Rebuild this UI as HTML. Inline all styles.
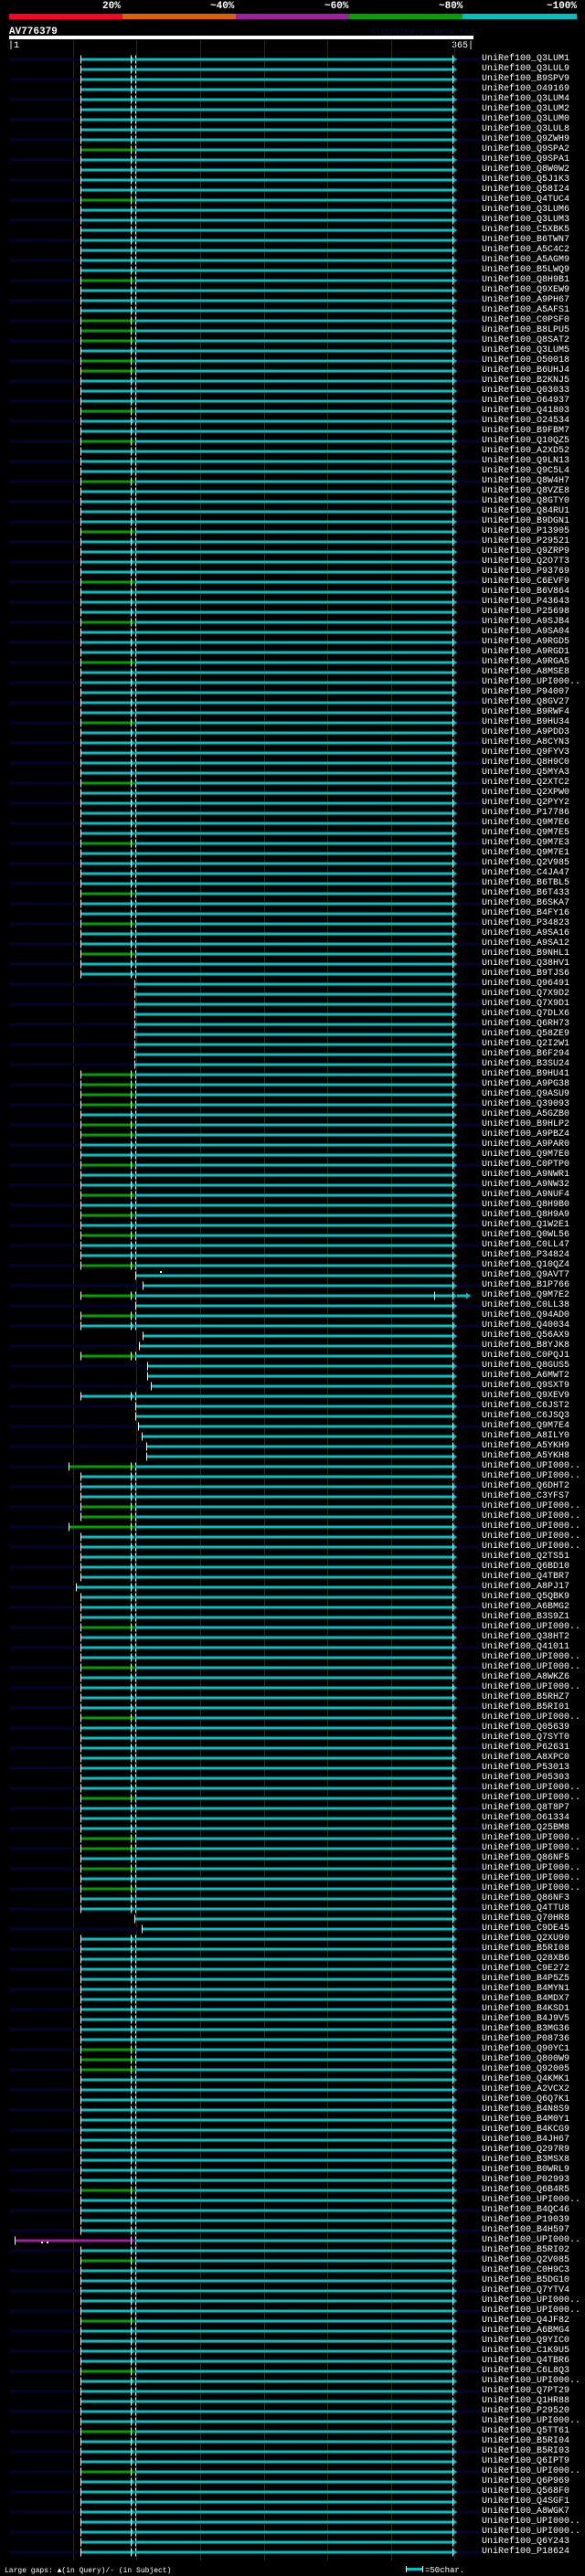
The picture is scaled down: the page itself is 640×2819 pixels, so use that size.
<!DOCTYPE html>
<html><head><meta charset="utf-8">
<style>
html,body{margin:0;padding:0;background:#000;}
body{width:640px;height:2819px;position:relative;overflow:hidden;font-family:"Liberation Mono",monospace;}
.pct{position:absolute;top:1px;color:#fff;font-weight:bold;font-size:11px;}
#labels{position:absolute;left:527px;top:59px;font-size:10px;line-height:11px;color:#fff;white-space:pre;}
svg{position:absolute;left:0;top:0;}
</style></head><body>
<svg id="s" width="640" height="2819" xmlns="http://www.w3.org/2000/svg">
<rect x="10" y="15" width="124" height="6" fill="#ff0020"/>
<rect x="134" y="15" width="124" height="6" fill="#e06000"/>
<rect x="258" y="15" width="124" height="6" fill="#a020a0"/>
<rect x="382" y="15" width="124" height="6" fill="#00a000"/>
<rect x="506" y="15" width="125" height="6" fill="#00c0c0"/>
<text x="10" y="37" fill="#fff" font-family="Liberation Mono" font-weight="bold" font-size="11">AV776379</text>
<text x="405" y="37" fill="#0a0a3a" font-family="Liberation Mono" font-size="9">AlignView.pm Beta rel.7</text>
<rect x="10" y="39" width="508" height="4" fill="#fff"/>
<text x="9" y="52" fill="#fff" font-family="Liberation Mono" font-size="10">|1</text>
<text x="518" y="52" fill="#fff" font-family="Liberation Mono" font-size="10" text-anchor="end">365|</text>
<g id="g"></g>
<rect x="444" y="2808" width="1" height="7" fill="#fff"/>
<rect x="445" y="2810" width="17" height="3" fill="#00c0c0"/>
<rect x="462" y="2808" width="1" height="7" fill="#fff"/>
<text x="465" y="2815" fill="#fff" font-family="Liberation Mono" font-size="9">=50char.</text>
<text x="5" y="2815" fill="#fff" font-family="Liberation Mono" font-size="8">Large gaps: ▲(in Query)/- (in Subject)</text>
</svg>
<div class="pct" style="left:112px">20%</div>
<div class="pct" style="left:230px">~40%</div>
<div class="pct" style="left:355px">~60%</div>
<div class="pct" style="left:480px">~80%</div>
<div class="pct" style="left:598px">~100%</div>
<div id="labels">UniRef100_Q3LUM1
UniRef100_Q3LUL9
UniRef100_B9SPV9
UniRef100_O49169
UniRef100_Q3LUM4
UniRef100_Q3LUM2
UniRef100_Q3LUM0
UniRef100_Q3LUL8
UniRef100_Q9ZWH9
UniRef100_Q9SPA2
UniRef100_Q9SPA1
UniRef100_Q8W0W2
UniRef100_Q5J1K3
UniRef100_Q58I24
UniRef100_Q4TUC4
UniRef100_Q3LUM6
UniRef100_Q3LUM3
UniRef100_C5XBK5
UniRef100_B6TWN7
UniRef100_A5C4C2
UniRef100_A5AGM9
UniRef100_B5LWQ9
UniRef100_Q8H9B1
UniRef100_Q9XEW9
UniRef100_A9PH67
UniRef100_A5AFS1
UniRef100_C0PSF0
UniRef100_B8LPU5
UniRef100_Q8SAT2
UniRef100_Q3LUM5
UniRef100_O50018
UniRef100_B6UHJ4
UniRef100_B2KNJ5
UniRef100_Q03033
UniRef100_O64937
UniRef100_Q41803
UniRef100_O24534
UniRef100_B9FBM7
UniRef100_Q10QZ5
UniRef100_A2XD52
UniRef100_Q9LN13
UniRef100_Q9C5L4
UniRef100_Q8W4H7
UniRef100_Q8VZE8
UniRef100_Q8GTY0
UniRef100_Q84RU1
UniRef100_B9DGN1
UniRef100_P13905
UniRef100_P29521
UniRef100_Q9ZRP9
UniRef100_Q2O7T3
UniRef100_P93769
UniRef100_C6EVF9
UniRef100_B6V864
UniRef100_P43643
UniRef100_P25698
UniRef100_A9SJB4
UniRef100_A9SA04
UniRef100_A9RGD5
UniRef100_A9RGD1
UniRef100_A9RGA5
UniRef100_A8MSE8
UniRef100_UPI000..
UniRef100_P94007
UniRef100_Q8GV27
UniRef100_B9RWF4
UniRef100_B9HU34
UniRef100_A9PDD3
UniRef100_A8CYN3
UniRef100_Q9FYV3
UniRef100_Q8H9C0
UniRef100_Q5MYA3
UniRef100_Q2XTC2
UniRef100_Q2XPW0
UniRef100_Q2PYY2
UniRef100_P17786
UniRef100_Q9M7E6
UniRef100_Q9M7E5
UniRef100_Q9M7E3
UniRef100_Q9M7E1
UniRef100_Q2V985
UniRef100_C4JA47
UniRef100_B6TBL5
UniRef100_B6T433
UniRef100_B6SKA7
UniRef100_B4FY16
UniRef100_P34823
UniRef100_A9SA16
UniRef100_A9SA12
UniRef100_B9NHL1
UniRef100_Q38HV1
UniRef100_B9TJS6
UniRef100_Q96491
UniRef100_Q7X9D2
UniRef100_Q7X9D1
UniRef100_Q7DLX6
UniRef100_Q6RH73
UniRef100_Q58ZE9
UniRef100_Q2I2W1
UniRef100_B6F294
UniRef100_B3SU24
UniRef100_B9HU41
UniRef100_A9PG38
UniRef100_Q9ASU9
UniRef100_Q39093
UniRef100_A5GZB0
UniRef100_B9HLP2
UniRef100_A9PBZ4
UniRef100_A9PAR0
UniRef100_Q9M7E0
UniRef100_C0PTP0
UniRef100_A9NWR1
UniRef100_A9NW32
UniRef100_A9NUF4
UniRef100_Q8H9B0
UniRef100_Q8H9A9
UniRef100_Q1W2E1
UniRef100_Q0WL56
UniRef100_C0LL47
UniRef100_P34824
UniRef100_Q10QZ4
UniRef100_Q9AVT7
UniRef100_B1P766
UniRef100_Q9M7E2
UniRef100_C0LL38
UniRef100_Q94AD0
UniRef100_Q40034
UniRef100_Q56AX9
UniRef100_B8YJK8
UniRef100_C0PQJ1
UniRef100_Q8GUS5
UniRef100_A6MWT2
UniRef100_Q9SXT9
UniRef100_Q9XEV9
UniRef100_C6JST2
UniRef100_C6JSQ3
UniRef100_Q9M7E4
UniRef100_A8ILY0
UniRef100_A5YKH9
UniRef100_A5YKH8
UniRef100_UPI000..
UniRef100_UPI000..
UniRef100_Q6DHT2
UniRef100_C3YFS7
UniRef100_UPI000..
UniRef100_UPI000..
UniRef100_UPI000..
UniRef100_UPI000..
UniRef100_UPI000..
UniRef100_Q2TS51
UniRef100_Q6BD10
UniRef100_Q4TBR7
UniRef100_A8PJ17
UniRef100_Q5QBK9
UniRef100_A6BMG2
UniRef100_B3S9Z1
UniRef100_UPI000..
UniRef100_Q38HT2
UniRef100_Q41011
UniRef100_UPI000..
UniRef100_UPI000..
UniRef100_A8WKZ6
UniRef100_UPI000..
UniRef100_B5RHZ7
UniRef100_B5RI01
UniRef100_UPI000..
UniRef100_Q05639
UniRef100_Q7SYT0
UniRef100_P62631
UniRef100_A8XPC0
UniRef100_P53013
UniRef100_P05303
UniRef100_UPI000..
UniRef100_UPI000..
UniRef100_Q8T8P7
UniRef100_O61334
UniRef100_Q25BM8
UniRef100_UPI000..
UniRef100_UPI000..
UniRef100_Q86NF5
UniRef100_UPI000..
UniRef100_UPI000..
UniRef100_UPI000..
UniRef100_Q86NF3
UniRef100_Q4TTU8
UniRef100_Q70HR8
UniRef100_C9DE45
UniRef100_Q2XU90
UniRef100_B5RI08
UniRef100_Q28XB6
UniRef100_C9E272
UniRef100_B4P5Z5
UniRef100_B4MYN1
UniRef100_B4MDX7
UniRef100_B4KSD1
UniRef100_B4J9V5
UniRef100_B3MG36
UniRef100_P08736
UniRef100_Q90YC1
UniRef100_Q800W9
UniRef100_Q92005
UniRef100_Q4KMK1
UniRef100_A2VCX2
UniRef100_Q6Q7K1
UniRef100_B4N8S9
UniRef100_B4M0Y1
UniRef100_B4KCG9
UniRef100_B4JH67
UniRef100_Q297R9
UniRef100_B3MSX8
UniRef100_B0WRL9
UniRef100_P02993
UniRef100_Q6B4R5
UniRef100_UPI000..
UniRef100_B4QC46
UniRef100_P19039
UniRef100_B4H597
UniRef100_UPI000..
UniRef100_B5RI02
UniRef100_Q2V085
UniRef100_C0H9C3
UniRef100_B5DG10
UniRef100_Q7YTV4
UniRef100_UPI000..
UniRef100_UPI000..
UniRef100_Q4JF82
UniRef100_A6BMG4
UniRef100_Q9YIC0
UniRef100_C1K9U5
UniRef100_Q4TBR6
UniRef100_C6L8Q3
UniRef100_UPI000..
UniRef100_Q7PT29
UniRef100_Q1HR88
UniRef100_P29520
UniRef100_UPI000..
UniRef100_Q5TT61
UniRef100_B5RI04
UniRef100_B5RI03
UniRef100_Q6IPT9
UniRef100_UPI000..
UniRef100_Q6P969
UniRef100_Q568F0
UniRef100_Q4SGF1
UniRef100_A8WGK7
UniRef100_UPI000..
UniRef100_UPI000..
UniRef100_Q6Y243
UniRef100_P18624</div>
<script>
(function(){
var NS="http://www.w3.org/2000/svg",g=document.getElementById("g"),h="";
function r(x,y,w,hh,c){h+='<rect x="'+x+'" y="'+y+'" width="'+w+'" height="'+hh+'" fill="'+c+'"/>';}
function tri(x,y,c){h+='<polygon points="'+x+','+(y-3.5)+' '+(x+5)+','+y+' '+x+','+(y+3.5)+'" fill="'+c+'"/>';}
function tick(x,y){r(x,y-4.5,1,9,"#fff");}
var grid=[80,149,219,289,358,428,497];
grid.forEach(function(x){r(x,44,1,2758,"#2a2a0c");});
var N=249,CY="#00c0c0",GR="#00a000",MG="#a020a0";
var greens=[9,14,22,26,27,28,30,31,35,38,42,47,52,56,60,66,72,78,83,86,89,101,102,103,104,106,107,110,113,115,117,120,123,125,129,140,144,145,146,156,160,165,173,177,178,180,182,198,199,200,212,219,225,230,236,240];
var nstart={92:147,93:147,94:147,95:147,96:147,97:147,98:147,99:147,100:147,121:148,122:156,124:148,127:156,128:152,130:161,131:161,132:165,134:148,135:148,136:151,137:155,138:160,139:160,185:147,186:155};
var lstart={140:75,146:75,152:83,217:16};
for(var i=0;i<N;i++){
 var y=65+11*i;
 if(i%2==0) r(10,y-1.5,517,3,"#03032e");
 if(nstart[i]){var sx=nstart[i];r(sx,y-1.5,495-sx,3,CY);tick(sx,y);}
 else{
  var ls=lstart[i]||88;
  var c=greens.indexOf(i)>=0?GR:CY; if(i==217)c=MG;
  r(ls,y-1.5,143-ls,3,c);tri(143,y,c);tick(ls,y);tick(143,y);tick(148,y);
  r(148,y-1.5,347,3,CY);
 }
 tri(495,y,CY);tick(495,y);
 if(i==123){r(500,y-1.5,10,3,CY);tri(510,y,CY);tick(475,y);}
}
r(45,2453,2,2,"#ff8");r(51,2453,2,2,"#ff8");r(175,1391,2,2,"#ff8");
g.innerHTML=h;
})();
</script>
</body></html>
